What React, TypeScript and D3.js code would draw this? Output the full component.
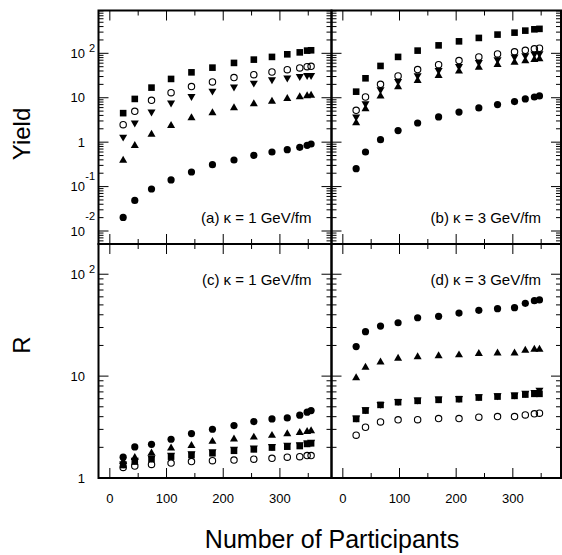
import React, { useEffect, useRef } from 'react';
import * as d3 from 'd3';

// Number of participants for each centrality bin (left and right columns differ)
const nPartK1 = [23.5, 44, 73.5, 108, 144, 181, 219, 254, 286, 313, 335, 348, 355];
const nPartK3 = [23.5, 40, 66.5, 97.5, 132, 169, 205, 240, 273, 303, 322, 338, 347];

// (a) yields, kappa = 1 GeV/fm
const yieldK1Square = [4.5, 9.4, 16.9, 26.5, 37.3, 47.6, 60.8, 72.1, 83, 95, 105, 115, 117];
const yieldK1Open = [2.48, 4.94, 8.73, 13, 17.8, 22.7, 28.4, 33.1, 38, 42.9, 46.9, 50.1, 51];
const yieldK1Down = [1.31, 2.71, 4.79, 7.64, 10.8, 14.2, 17.5, 21.5, 25.6, 27.9, 30.3, 32, 32];
const yieldK1Up = [0.39, 0.83, 1.5, 2.36, 3.5, 4.55, 5.9, 7.24, 8.3, 9.55, 10.4, 11, 11.3];
const yieldK1Circle = [0.0202, 0.0489, 0.0883, 0.141, 0.213, 0.311, 0.397, 0.505, 0.601, 0.678, 0.764, 0.847, 0.91];

// (b) yields, kappa = 3 GeV/fm
const yieldK3Square = [13.7, 27.4, 52, 83, 115, 151, 186, 222, 264, 292, 324, 347, 355];
const yieldK3Open = [5.2, 10.4, 20, 31, 43, 55.6, 68.5, 83, 97, 108, 117, 126, 130];
const yieldK3Down = [3.7, 7.4, 15.2, 23.4, 31.5, 41.4, 51, 62.7, 72.1, 83, 88.8, 96.9, 98.4];
const yieldK3Up = [2.7, 5.6, 10.8, 17.5, 24.3, 31.5, 39.4, 48.4, 55.6, 62.7, 67.4, 72.1, 74.8];
const yieldK3Circle = [0.253, 0.601, 1.14, 1.82, 2.7, 3.7, 4.76, 5.9, 7.0, 8.2, 9.4, 10.4, 11];

// (c) ratio R, kappa = 1 GeV/fm
const ratioK1Circle = [1.6, 2.02, 2.14, 2.4, 2.73, 3.01, 3.27, 3.58, 3.8, 3.89, 4.14, 4.43, 4.59];
const ratioK1Up = [1.45, 1.58, 1.75, 1.96, 2.08, 2.28, 2.4, 2.51, 2.61, 2.71, 2.79, 2.85, 2.9];
const ratioK1Down = [1.38, 1.5, 1.58, 1.68, 1.74, 1.82, 1.92, 1.98, 2.05, 2.1, 2.13, 2.22, 2.25];
const ratioK1Square = [1.34, 1.45, 1.53, 1.62, 1.68, 1.75, 1.85, 1.91, 1.99, 2.03, 2.06, 2.16, 2.19];
const ratioK1Open = [1.27, 1.31, 1.36, 1.4, 1.45, 1.48, 1.5, 1.53, 1.56, 1.6, 1.62, 1.66, 1.66];

// (d) ratio R, kappa = 3 GeV/fm
const ratioK3Circle = [19.5, 27.3, 31, 33.4, 37.4, 38.6, 41.6, 44.2, 45.9, 47, 51.8, 55, 55.9];
const ratioK3Up = [9.6, 12.2, 13.7, 14.9, 15.4, 15.8, 16.1, 16.6, 16.8, 16.8, 17.9, 18.3, 18.3];
const ratioK3Down = [3.9, 4.7, 5.3, 5.65, 5.85, 6.0, 6.05, 6.3, 6.45, 6.55, 6.8, 6.95, 7.3];
const ratioK3Square = [3.8, 4.59, 5.22, 5.55, 5.72, 5.85, 5.94, 6.16, 6.3, 6.4, 6.59, 6.7, 6.7];
const ratioK3Open = [2.63, 3.15, 3.55, 3.72, 3.74, 3.83, 3.83, 3.95, 4.01, 4.01, 4.16, 4.26, 4.33];

const xTickLabels = ['0', '100', '200', '300'];
const panelLabels = ['(a) κ = 1 GeV/fm', '(b) κ = 3 GeV/fm', '(c) κ = 1 GeV/fm', '(d) κ = 3 GeV/fm'];

const FONT = '"Liberation Sans", Arial, Helvetica, sans-serif';

type Shape = 'circle' | 'up' | 'down' | 'open' | 'square';

const App = () => {
  const svgRef = useRef<SVGSVGElement>(null);

  useEffect(() => {
    const svg = d3.select(svgRef.current);
    svg.selectAll('*').remove();

    // panel frames (pixels)
    const left = 98.5, mid = 331.5, right = 561;
    const top = 10.5, hmid = 244, bottom = 478;

    const xLeft = d3.scaleLinear().domain([-20, 391]).range([left, mid]);
    const xRight = d3.scaleLinear().domain([-20, 385]).range([mid, right]);
    const yTop = d3.scaleLog().domain([0.0051, 920]).range([hmid, top]);
    const yBot = d3.scaleLog().domain([1, 198]).range([bottom, hmid]);

    const order: Shape[] = ['circle', 'up', 'down', 'open', 'square'];
    const panels = [
      { x: xLeft, y: yTop, px: nPartK1, label: panelLabels[0], labelY: 222.5, yLab: true, xLab: false,
        data: [yieldK1Circle, yieldK1Up, yieldK1Down, yieldK1Open, yieldK1Square] },
      { x: xRight, y: yTop, px: nPartK3, label: panelLabels[1], labelY: 222.5, yLab: false, xLab: false,
        data: [yieldK3Circle, yieldK3Up, yieldK3Down, yieldK3Open, yieldK3Square] },
      { x: xLeft, y: yBot, px: nPartK1, label: panelLabels[2], labelY: 285, yLab: true, xLab: true,
        data: [ratioK1Circle, ratioK1Up, ratioK1Down, ratioK1Open, ratioK1Square] },
      { x: xRight, y: yBot, px: nPartK3, label: panelLabels[3], labelY: 285, yLab: false, xLab: true,
        data: [ratioK3Circle, ratioK3Up, ratioK3Down, ratioK3Open, ratioK3Square] },
    ];

    const major = 10, minor = 5;

    panels.forEach((p) => {
      const g = svg.append('g');
      const [x0, x1] = p.x.range();
      const [y1, y0] = p.y.range();

      // x ticks: majors every 100, minors at 50s, top and bottom
      const xt = d3.range(0, 400, 50).filter((v) => v >= p.x.domain()[0] && v <= p.x.domain()[1]);
      xt.forEach((v) => {
        const len = v % 100 === 0 ? major : minor;
        const xx = p.x(v);
        g.append('line').attr('x1', xx).attr('x2', xx).attr('y1', y1).attr('y2', y1 - len)
          .attr('stroke', '#000').attr('stroke-width', 1);
        g.append('line').attr('x1', xx).attr('x2', xx).attr('y1', y0).attr('y2', y0 + len)
          .attr('stroke', '#000').attr('stroke-width', 1);
      });

      // log y ticks, left and right
      const [d0, d1] = p.y.domain();
      const yt: { v: number; maj: boolean }[] = [];
      for (let e = Math.floor(Math.log10(d0)); e <= Math.ceil(Math.log10(d1)); e++) {
        for (let k = 1; k <= 9; k++) {
          const v = k * Math.pow(10, e);
          if (v >= d0 && v <= d1) yt.push({ v, maj: k === 1 });
        }
      }
      yt.forEach((t) => {
        const yy = p.y(t.v);
        const len = t.maj ? major : minor;
        g.append('line').attr('x1', x0).attr('x2', x0 + len).attr('y1', yy).attr('y2', yy)
          .attr('stroke', '#000').attr('stroke-width', 1);
        g.append('line').attr('x1', x1).attr('x2', x1 - len).attr('y1', yy).attr('y2', yy)
          .attr('stroke', '#000').attr('stroke-width', 1);
      });

      // y tick labels (powers of ten)
      if (p.yLab) {
        yt.filter((t) => t.maj).forEach((t) => {
          const e = Math.round(Math.log10(t.v));
          const yy = p.y(t.v);
          const base = e === 0 ? '1' : '10';
          g.append('text').attr('x', 85).attr('y', yy + 4.5).attr('text-anchor', 'end')
            .attr('font-family', FONT).attr('font-size', 13).text(base);
          if (e < 0 || e > 1) {
            const rise = e === 2 ? 6 : e === -1 ? 11 : 16;
            g.append('text').attr('x', 95).attr('y', yy + 4.5 - rise).attr('text-anchor', 'end')
              .attr('font-family', FONT).attr('font-size', 11).text(String(e));
          }
        });
      }

      // x tick labels
      if (p.xLab) {
        xTickLabels.forEach((s) => {
          g.append('text').attr('x', p.x(+s)).attr('y', 502.5).attr('text-anchor', 'middle')
            .attr('font-family', FONT).attr('font-size', 13).text(s);
        });
      }

      // frame
      g.append('rect').attr('x', x0).attr('y', y0).attr('width', x1 - x0).attr('height', y1 - y0)
        .attr('fill', 'none').attr('stroke', '#000').attr('stroke-width', 2);

      // markers
      const sym = d3.symbol().type(d3.symbolTriangle).size(28);
      p.data.forEach((vals, si) => {
        const shape = order[si];
        vals.forEach((v, i) => {
          const cx = p.x(p.px[i]);
          const cy = p.y(v);
          if (shape === 'circle') {
            g.append('circle').attr('cx', cx).attr('cy', cy).attr('r', 3.6).attr('fill', '#000');
          } else if (shape === 'open') {
            g.append('circle').attr('cx', cx).attr('cy', cy).attr('r', 3.2).attr('fill', 'none')
              .attr('stroke', '#000').attr('stroke-width', 1.1);
          } else if (shape === 'square') {
            g.append('rect').attr('x', cx - 3.3).attr('y', cy - 3.3).attr('width', 6.6).attr('height', 6.6)
              .attr('fill', '#000');
          } else {
            g.append('path').attr('d', sym() as string).attr('fill', '#000')
              .attr('transform', `translate(${cx},${cy})${shape === 'down' ? ' rotate(180)' : ''}`);
          }
        });
      });

      // panel caption
      g.append('text').attr('x', x1 - 20).attr('y', p.labelY).attr('text-anchor', 'end')
        .attr('font-family', FONT).attr('font-size', 15).text(p.label);
    });

    // axis titles
    svg.append('text').attr('transform', 'translate(29.5,134) rotate(-90)').attr('text-anchor', 'middle')
      .attr('font-family', FONT).attr('font-size', 24).text('Yield');
    svg.append('text').attr('transform', 'translate(29.5,345) rotate(-90)').attr('text-anchor', 'middle')
      .attr('font-family', FONT).attr('font-size', 24).text('R');
    svg.append('text').attr('x', 332).attr('y', 548).attr('text-anchor', 'middle')
      .attr('font-family', FONT).attr('font-size', 25).text('Number of Participants');
  }, []);

  return <svg ref={svgRef} width={562} height={555} style={{ position: 'absolute', left: 0, top: 0 }} />;
};

export default App;
